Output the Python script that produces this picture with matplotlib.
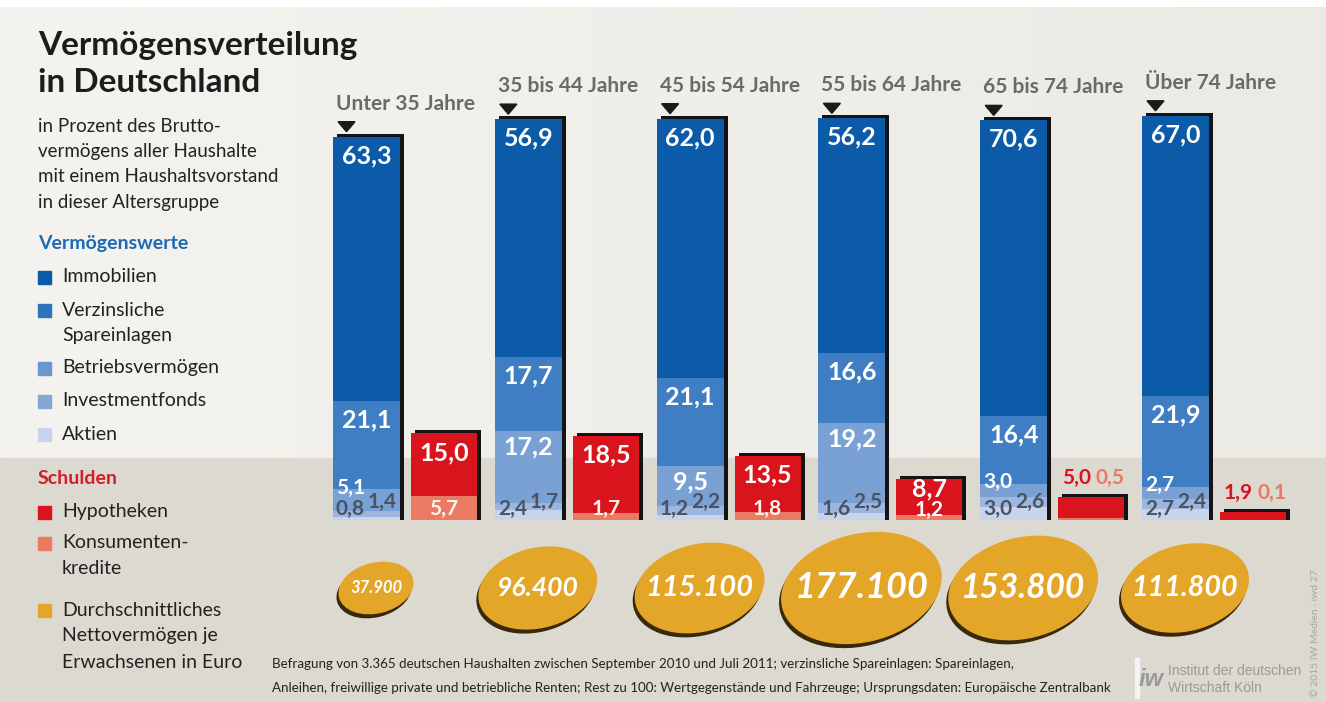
import numpy as np
import matplotlib
matplotlib.use('Agg')
import matplotlib.pyplot as plt
from matplotlib.patches import Rectangle, Ellipse, Polygon
from matplotlib.colors import LinearSegmentedColormap

plt.rcParams['font.family'] = ['Lato', 'DejaVu Sans']

# Altersgruppen und Werte (in Prozent des Bruttovermoegens)
gruppen = ['Unter 35 Jahre', '35 bis 44 Jahre', '45 bis 54 Jahre',
           '55 bis 64 Jahre', '65 bis 74 Jahre', 'Über 74 Jahre']
immobilien = [63.3, 56.9, 62.0, 56.2, 70.6, 67.0]
spareinlagen = [21.1, 17.7, 21.1, 16.6, 16.4, 21.9]
betrieb = [5.1, 17.2, 9.5, 19.2, 3.0, 2.7]
fonds = [1.4, 1.7, 2.2, 2.5, 2.6, 2.4]
aktien = [0.8, 2.4, 1.2, 1.6, 3.0, 2.7]
# Schulden
hypotheken = [15.0, 18.5, 13.5, 8.7, 5.0, 1.9]
konsum = [5.7, 1.7, 1.8, 1.2, 0.5, 0.1]
# Nettovermoegen je Erwachsenen in Euro
netto = [37900, 96400, 115100, 177100, 153800, 111800]

# Farben
c_immo = '#0b5ba8'
c_spar = '#3f7ec2'
c_betr = '#7aa1d4'
c_fonds = '#9db6df'
c_akt = '#c7d4ec'
c_hyp = '#d9141d'
c_kon = '#ea7a62'
c_gold = '#e3a629'

def de(v):
    return f'{v:.1f}'.replace('.', ',')

W, H = 1326, 702
fig = plt.figure(figsize=(W / 100, H / 100), dpi=100, facecolor='white')

# Hintergrund in Pixelkoordinaten
bg = fig.add_axes([0, 0, 1, 1])
bg.set_xlim(0, W)
bg.set_ylim(H, 0)
bg.axis('off')
grad = np.linspace(0, 1, 256)[None, :]
cm_bg = LinearSegmentedColormap.from_list('bg', ['#f4f3ef', '#ebeae5'])
bg.imshow(grad, cmap=cm_bg, extent=(0, W, 458, 7), aspect='auto', zorder=0)
bg.add_patch(Rectangle((0, 458), W, H - 458, color='#dcd9d0', zorder=0))

# Balken-Achse: x in Gruppen, y in Prozent
px_pct = 4.18      # Pixel je Prozentpunkt
base_px = 520
step_px = 161.8
x0_px = 333
ax = fig.add_axes([0, 0, 1, 1])
ax.set_xlim(-x0_px / step_px, (W - x0_px) / step_px)
ax.set_ylim(-(H - base_px) / px_pct, base_px / px_pct)
ax.axis('off')

bw = 67 / step_px
rw = 66 / step_px
roff = 78 / step_px
dx = 4 / step_px
dy = 3 / px_pct

x = np.arange(len(gruppen))
akt = np.array(aktien)
fon = np.array(fonds)
bet = np.array(betrieb)
spa = np.array(spareinlagen)
imm = np.array(immobilien)
hyp = np.array(hypotheken)
kon = np.array(konsum)
total = akt + fon + bet + spa + imm
schuld = hyp + kon

# Schatten (3D-Kante)
ax.bar(x + dx, total + dy, width=bw, align='edge', color='#141414', zorder=2)
ax.bar(x + roff + dx, schuld + dy, width=rw, align='edge', color='#141414', zorder=2)

# Vermoegen gestapelt
b = np.zeros(len(x))
for vals, col in [(akt, c_akt), (fon, c_fonds), (bet, c_betr), (spa, c_spar), (imm, c_immo)]:
    ax.bar(x, vals, bottom=b, width=bw, align='edge', color=col, zorder=3)
    b = b + vals
# Schulden gestapelt
ax.bar(x + roff, kon, width=rw, align='edge', color=c_kon, zorder=3)
ax.bar(x + roff, hyp, bottom=kon, width=rw, align='edge', color=c_hyp, zorder=3)

big = 18
small = 15
off = 19 / px_pct
for i in x:
    cx = i + bw / 2
    top = total[i]
    # Immobilien
    ax.text(cx, top - off, de(imm[i]), color='white', fontsize=big, fontweight='bold',
            ha='center', va='center', zorder=5)
    spa_top = top - imm[i]
    ax.text(cx, spa_top - off, de(spa[i]), color='white', fontsize=big, fontweight='bold',
            ha='center', va='center', zorder=5)
    bet_top = spa_top - spa[i]
    if bet[i] >= 8:
        ax.text(cx, bet_top - 16 / px_pct, de(bet[i]), color='white', fontsize=big,
                fontweight='bold', ha='center', va='center', zorder=5)
    else:
        ax.text(i + 3 / step_px, bet_top + 2 / px_pct, de(bet[i]), color='white',
                fontsize=small, fontweight='bold', ha='left', va='center', zorder=5)
    # Aktien (links unten) und Investmentfonds (rechts)
    ax.text(i + 3 / step_px, 11 / px_pct, de(akt[i]), color='#4b5262', fontsize=small,
            fontweight='bold', ha='left', va='center', zorder=5)
    ax.text(i + bw - 3 / step_px, 18 / px_pct, de(fon[i]), color='#4b5262', fontsize=small,
            fontweight='bold', ha='right', va='center', zorder=5)

    # Kopfzeile mit Pfeil
    ax.text(i + 3 / step_px, top + 33 / px_pct, gruppen[i], color='#6a6a6a', fontsize=15,
            fontweight='bold', ha='left', va='center', zorder=5)
    tri = [(i + 5 / step_px, top + 15 / px_pct), (i + 22 / step_px, top + 15 / px_pct),
           (i + 13.5 / step_px, top + 5 / px_pct)]
    ax.add_patch(Polygon(tri, closed=True, color='#1a1a1a', zorder=5))

    # Schulden-Beschriftung
    rx = i + roff
    st = schuld[i]
    if st >= 12:
        ax.text(rx + rw / 2, st - off, de(hyp[i]), color='white', fontsize=big,
                fontweight='bold', ha='center', va='center', zorder=5)
        ax.text(rx + rw / 2, 11 / px_pct, de(kon[i]), color='#fff3ee', fontsize=small,
                fontweight='bold', ha='center', va='center', zorder=5)
    elif st >= 7:
        ax.text(rx + rw / 2, st - 10 / px_pct, de(hyp[i]), color='white', fontsize=big,
                fontweight='bold', ha='center', va='center', zorder=5)
        ax.text(rx + rw / 2, 10 / px_pct, de(kon[i]), color='white', fontsize=small,
                fontweight='bold', ha='center', va='center', zorder=5)
    else:
        ax.text(rx + 4 / step_px, st + 19 / px_pct, de(hyp[i]), color=c_hyp, fontsize=15,
                fontweight='bold', ha='left', va='center', zorder=5)
        ax.text(rx + rw, st + 19 / px_pct, de(kon[i]), color=c_kon, fontsize=15,
                fontweight='bold', ha='right', va='center', zorder=5)

# Muenzen: Flaeche proportional zum Nettovermoegen
nmax = max(netto)
for i, v in enumerate(netto):
    w = 162 * np.sqrt(v / nmax)
    h = 0.66 * w
    cx = x0_px + i * step_px + 43
    cy = 588
    bg.add_patch(Ellipse((cx - 2, cy + 4), w, h, angle=-14, color='#3a2908', zorder=6))
    bg.add_patch(Ellipse((cx, cy), w, h, angle=-14, color=c_gold, zorder=7))
    lab = f'{v:,}'.replace(',', '.')
    bg.text(cx, cy, lab, color='white', fontsize=w * 0.16, fontweight='bold', style='italic',
            ha='center', va='center', zorder=8)

# Linke Spalte: Titel und Legende
bg.text(38, 45, 'Vermögensverteilung', fontsize=24, fontweight='bold', color='#1c1c1c',
        va='center', ha='left')
bg.text(38, 82, 'in Deutschland', fontsize=24, fontweight='bold', color='#1c1c1c',
        va='center', ha='left')
sub = ['in Prozent des Brutto-', 'vermögens aller Haushalte',
       'mit einem Haushaltsvorstand', 'in dieser Altersgruppe']
for k, s in enumerate(sub):
    bg.text(38, 126 + k * 25.5, s, fontsize=13.5, color='#222222', va='center')

bg.text(38, 243, 'Vermögenswerte', fontsize=14, fontweight='bold', color='#1d6ab3', va='center')
leg_a = [(277, c_immo, ['Immobilien']),
         (310, '#2f74bb', ['Verzinsliche', 'Spareinlagen']),
         (368, '#6b97cf', ['Betriebsvermögen']),
         (401, '#86a7d6', ['Investmentfonds']),
         (434, c_akt, ['Aktien'])]
leg_b = [(512, c_hyp, ['Hypotheken']),
         (543, c_kon, ['Konsumenten-', 'kredite']),
         (610, c_gold, ['Durchschnittliches', 'Nettovermögen je', 'Erwachsenen in Euro'])]
bg.text(38, 479, 'Schulden', fontsize=14, fontweight='bold', color='#d11f2a', va='center')
for yy, col, lines in leg_a + leg_b:
    bg.add_patch(Rectangle((38, yy - 6), 13, 13, color=col))
    for k, s in enumerate(lines):
        bg.text(62, yy + k * 26, s, fontsize=14, color='#222222', va='center')

# Fussnote
bg.text(272, 664, 'Befragung von 3.365 deutschen Haushalten zwischen September 2010 und Juli 2011; '
        'verzinsliche Spareinlagen: Spareinlagen,', fontsize=9.6, color='#222222', va='center')
bg.text(272, 688, 'Anleihen, freiwillige private und betriebliche Renten; Rest zu 100: '
        'Wertgegenstände und Fahrzeuge; Ursprungsdaten: Europäische Zentralbank',
        fontsize=9.6, color='#222222', va='center')

# Logo
bg.add_patch(Rectangle((1135, 658), 4, 40, color='#f4f4f4', zorder=3))
bg.text(1151, 679, 'iw', fontsize=17, fontweight='bold', style='italic', color='#9a9a9a',
        ha='center', va='center', family='Liberation Sans')
bg.text(1168, 671, 'Institut der deutschen', fontsize=10, color='#9a9a9a', va='center',
        family='Liberation Sans')
bg.text(1168, 688, 'Wirtschaft Köln', fontsize=10, color='#9a9a9a', va='center',
        family='Liberation Sans')
bg.text(1316, 633, '© 2015 IW Medien · iwd 27', fontsize=7.5, color='#a8a8a8', rotation=90,
        ha='center', va='center')

fig.savefig('out.png', dpi=100, facecolor=fig.get_facecolor())
